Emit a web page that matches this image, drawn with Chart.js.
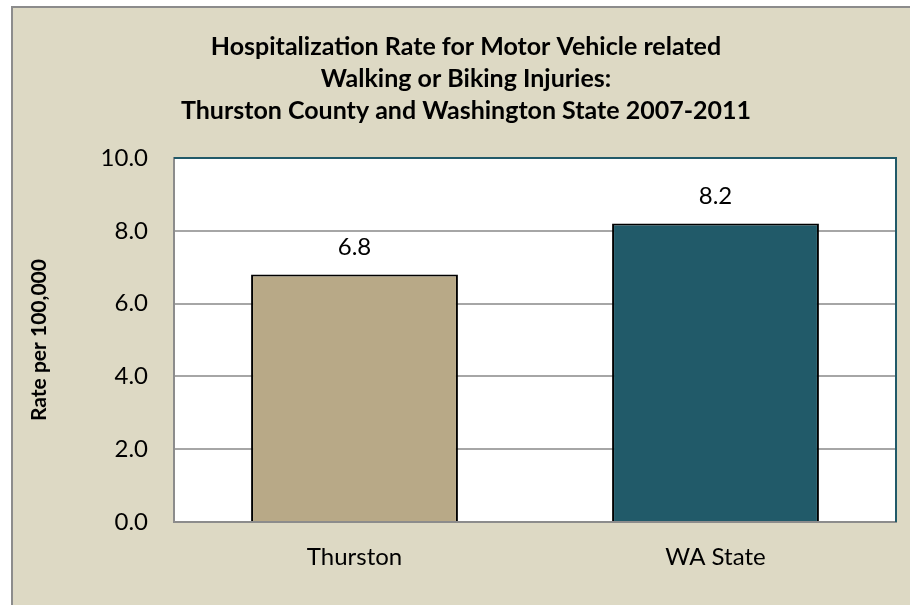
<!DOCTYPE html>
<html><head><meta charset="utf-8">
<script src="https://cdn.jsdelivr.net/npm/chart.js@4.4.0/dist/chart.umd.min.js"></script>
<style>html,body{margin:0;padding:0;background:#fff;}#wrap{position:absolute;left:0;top:0;width:910px;height:605px;}</style>
</head><body><div id="wrap"><canvas id="c" width="910" height="605"></canvas></div>
<script>
const categories = ["Thurston", "WA State"];
const rates = [6.8, 8.2];
const barColors = ["#B8A987", "#215A69"];
const titleLines = ["Hospitalization Rate for Motor Vehicle related", "Walking or Biking Injuries:", "Thurston County and Washington State 2007-2011"];
const yAxisTitle = "Rate per 100,000";
const FONT = "Lato, 'Carlito', 'Open Sans', sans-serif";

const bgPlugin = {
  id: 'bg',
  beforeDraw(chart) {
    const ctx = chart.ctx, a = chart.chartArea;
    ctx.save();
    ctx.fillStyle = '#fff';
    ctx.fillRect(0, 0, chart.width, chart.height);
    ctx.fillStyle = '#DDD9C4';
    ctx.fillRect(11, 6, chart.width - 11, chart.height - 6);
    ctx.fillStyle = '#8C8C8C';
    ctx.fillRect(11, 6, chart.width - 11, 2);
    ctx.fillRect(11, 6, 2, chart.height - 6);
    ctx.fillStyle = '#fff';
    ctx.fillRect(a.left, a.top, a.right - a.left, a.bottom - a.top);
    ctx.restore();
  },
  afterDatasetsDraw(chart) {
    const ctx = chart.ctx, a = chart.chartArea;
    ctx.save();
    ctx.strokeStyle = '#215A69';
    ctx.lineWidth = 2;
    ctx.beginPath();
    ctx.moveTo(a.left, a.top);
    ctx.lineTo(a.right, a.top);
    ctx.lineTo(a.right, a.bottom);
    ctx.stroke();
    // title
    ctx.fillStyle = '#000';
    ctx.font = "bold 25px " + FONT;
    ctx.textAlign = 'center';
    ctx.textBaseline = 'middle';
    titleLines.forEach((t, i) => ctx.fillText(t, 466, 47 + i * 32));
    // value labels
    ctx.font = "24px " + FONT;
    const meta = chart.getDatasetMeta(0);
    meta.data.forEach((bar, i) => {
      ctx.fillText(rates[i].toFixed(1), bar.x, bar.y - 27);
    });
    ctx.restore();
  }
};

new Chart(document.getElementById('c'), {
  type: 'bar',
  data: {
    labels: categories,
    datasets: [{
      data: rates,
      backgroundColor: barColors,
      borderColor: '#000',
      borderWidth: 2,
      categoryPercentage: 0.573,
      barPercentage: 1.0
    }]
  },
  options: {
    responsive: false,
    animation: false,
    devicePixelRatio: 1,
    layout: { padding: { top: 158, right: 14, bottom: 0, left: 0 } },
    plugins: { legend: { display: false }, title: { display: false }, tooltip: { enabled: false } },
    scales: {
      x: {
        grid: { display: false, drawTicks: false },
        border: { display: true, color: '#8C8C8C', width: 2 },
        ticks: { color: '#000', font: { family: FONT, size: 24 }, padding: 21 },
        afterFit(s) { s.height = 83; }
      },
      y: {
        min: 0, max: 10,
        ticks: { stepSize: 2, color: '#000', font: { family: FONT, size: 24 }, padding: 26,
          callback: v => v.toFixed(1) },
        grid: { color: ctx => ctx.tick && ctx.tick.value === 10 ? 'rgba(0,0,0,0)' : '#A6A6A6', lineWidth: 2, drawTicks: false },
        border: { display: true, color: '#8C8C8C', width: 2 },
        title: { display: true, text: yAxisTitle, color: '#000', font: { family: FONT, size: 21, weight: 'bold' }, padding: { top: 27, bottom: 0 } },
        afterFit(s) { s.width = 174; }
      }
    }
  },
  plugins: [bgPlugin]
});
</script></body></html>
